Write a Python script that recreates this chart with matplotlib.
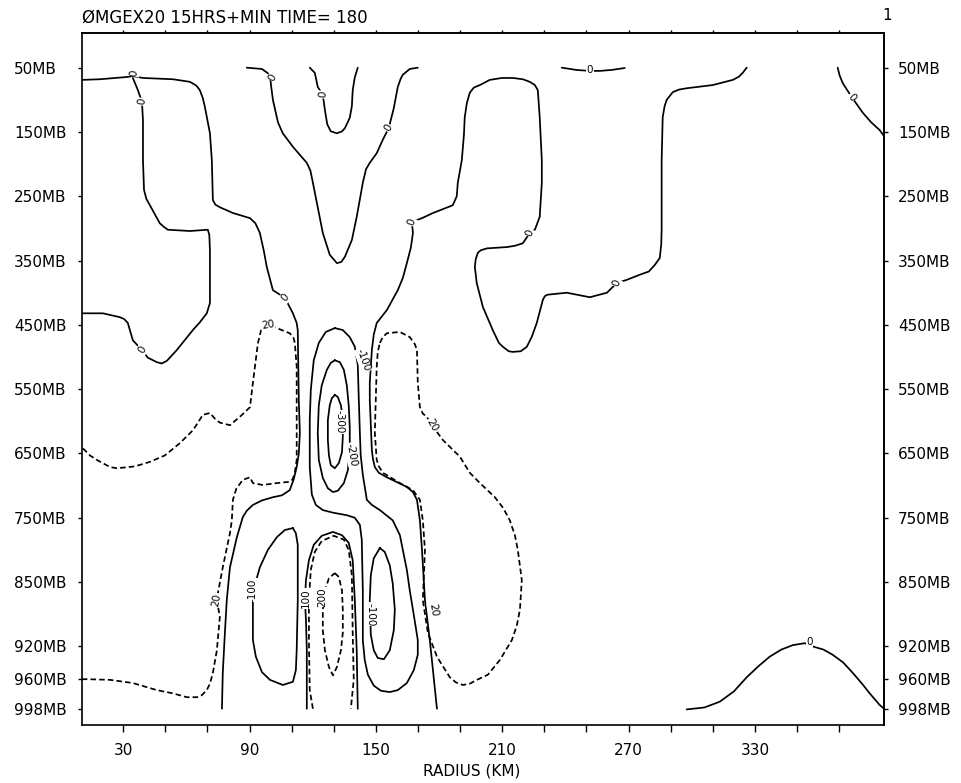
import matplotlib
matplotlib.use("Agg")
import matplotlib.pyplot as plt
import numpy as np

# vertical levels: pressure labels and their positions on the level axis
level_mb = ["50MB", "150MB", "250MB", "350MB", "450MB", "550MB", "650MB",
            "750MB", "850MB", "920MB", "960MB", "998MB"]
level_pos = [0, 1, 2, 3, 4, 5, 6, 7, 8, 9, 9.5, 9.98]

radius_ticks = np.arange(30, 371, 20)
radius_labels = [30, 90, 150, 210, 270, 330]

# omega isolines, (radius km, level position)
zero_upper_left = np.array([
    (10.4, 0.19), (18.9, 0.18), (31.8, 0.145), (34.6, 0.13), (39.4, 0.16), (53.6, 0.18),
    (61.7, 0.22), (64.8, 0.28), (66.4, 0.35), (67.8, 0.47), (68.8, 0.61), (71.2, 1.02),
    (72.1, 1.44), (72.6, 2.06), (73.8, 2.13), (75.9, 2.17), (82.1, 2.26), (90.2, 2.34),
    (92.8, 2.42), (94.9, 2.57), (96.8, 2.85), (98.2, 3.10), (101.1, 3.46), (106.8, 3.58),
    (110.6, 3.82), (112.4, 3.97), (112.9, 4.08), (113.4, 5.17), (113.9, 5.68), (113.4, 6.00),
    (112.4, 6.21), (111.0, 6.40), (109.1, 6.57), (105.4, 6.65), (101.1, 6.68), (95.9, 6.73),
    (91.6, 6.80), (88.7, 6.89), (86.8, 6.99), (84.0, 7.30), (80.7, 7.77), (79.2, 8.28),
    (78.3, 8.79), (77.3, 9.41), (76.9, 9.97)])

zero_left_pocket = np.array([
    (34.6, 0.16), (37.0, 0.35), (38.9, 0.53), (39.4, 0.81), (39.4, 1.44), (39.9, 1.90),
    (41.0, 2.04), (42.7, 2.14), (47.4, 2.42), (49.5, 2.48), (51.2, 2.52), (61.7, 2.54),
    (70.2, 2.52), (70.9, 2.60), (71.2, 2.84), (71.2, 3.66), (69.7, 3.82), (66.4, 3.96),
    (63.1, 4.08), (55.5, 4.39), (50.7, 4.56), (48.3, 4.60), (46.0, 4.58), (41.7, 4.51),
    (38.9, 4.39), (34.6, 4.24), (32.2, 3.97), (30.5, 3.91), (28.4, 3.88), (20.4, 3.82),
    (10.4, 3.82)])

zero_u_outer = np.array([
    (88.7, 0.0), (95.9, 0.02), (99.7, 0.11), (100.2, 0.27), (101.1, 0.50), (103.5, 0.85),
    (105.8, 1.02), (110.6, 1.23), (114.8, 1.39), (117.2, 1.48), (118.9, 1.60), (120.1, 1.79),
    (124.8, 2.57), (128.1, 2.91), (131.5, 3.04), (133.6, 3.02), (135.3, 2.94), (138.6, 2.68),
    (140.9, 2.32), (143.8, 1.79), (145.3, 1.58), (147.1, 1.48), (150.4, 1.33), (153.3, 1.12),
    (156.1, 0.94), (158.5, 0.63), (160.4, 0.30), (161.8, 0.17), (162.8, 0.11), (166.1, 0.02),
    (169.9, 0.0)])

zero_u_inner = np.array([
    (118.6, 0.0), (121.0, 0.08), (122.4, 0.30), (124.8, 0.42), (125.8, 0.66), (126.9, 0.88),
    (128.6, 0.99), (131.5, 1.02), (133.9, 0.99), (135.3, 0.94), (137.6, 0.78), (138.6, 0.60),
    (139.0, 0.35), (140.0, 0.15), (141.4, 0.0)])

zero_right_long = np.array([
    (179.0, 9.97), (177.1, 9.37), (175.6, 8.90), (173.3, 8.28), (171.9, 7.50), (170.9, 7.04),
    (169.5, 6.72), (167.6, 6.60), (164.7, 6.52), (155.2, 6.37), (151.4, 6.30), (149.5, 6.21),
    (148.6, 6.08), (148.1, 5.95), (147.1, 5.17), (147.1, 4.90), (148.1, 4.39), (149.0, 4.15),
    (150.4, 3.97), (155.2, 3.77), (160.4, 3.46), (162.8, 3.27), (164.7, 3.04), (166.6, 2.80),
    (167.6, 2.57), (167.1, 2.40), (171.9, 2.34), (177.1, 2.26), (186.5, 2.14), (188.4, 2.00),
    (188.9, 1.79), (190.8, 1.44), (191.8, 1.05), (192.2, 0.77), (193.2, 0.55), (194.6, 0.39),
    (196.5, 0.31), (199.4, 0.27), (204.1, 0.19), (209.8, 0.16), (215.0, 0.16), (219.8, 0.18),
    (223.1, 0.22), (225.5, 0.27), (226.9, 0.35), (227.8, 0.77), (228.8, 1.44), (228.8, 1.79),
    (227.8, 2.32), (225.5, 2.52), (223.1, 2.57), (219.8, 2.73), (216.0, 2.77), (212.2, 2.79),
    (202.7, 2.81), (199.8, 2.84), (198.4, 2.88), (197.4, 2.98), (197.0, 3.10), (197.9, 3.35),
    (200.8, 3.72), (205.5, 4.08), (208.4, 4.28), (210.3, 4.34), (213.1, 4.41), (215.0, 4.42),
    (218.8, 4.41), (221.7, 4.34), (224.1, 4.18), (226.4, 3.97), (229.3, 3.61), (230.3, 3.55),
    (231.6, 3.53), (240.7, 3.50), (251.6, 3.57), (259.7, 3.50), (264.4, 3.35), (269.1, 3.30),
    (275.3, 3.22), (279.6, 3.17), (282.4, 3.07), (284.8, 2.96), (285.5, 2.75), (285.7, 2.52),
    (285.7, 1.44), (286.2, 0.77), (287.1, 0.60), (288.1, 0.50), (291.0, 0.38), (294.0, 0.34),
    (297.6, 0.32), (310.0, 0.27), (319.5, 0.19), (322.4, 0.14), (324.2, 0.08), (326.1, 0.0)])

zero_top_arc = np.array([
    (238.3, 0.0), (245.4, 0.036), (251.6, 0.05), (256.4, 0.05), (262.0, 0.035), (268.2, 0.005)])

zero_top_right = np.array([
    (369.3, 0.0), (370.2, 0.12), (371.7, 0.24), (376.0, 0.46), (381.2, 0.70), (385.2, 0.85),
    (389.2, 0.97), (391.0, 1.05)])

zero_low_right = np.array([
    (297.6, 9.98), (306.0, 9.95), (313.3, 9.86), (320.0, 9.70), (326.1, 9.48), (331.6, 9.31),
    (337.0, 9.16), (342.5, 9.05), (348.0, 8.98), (353.7, 8.95), (358.4, 9.01), (362.6, 9.05),
    (366.9, 9.13), (371.9, 9.25), (376.4, 9.41), (380.6, 9.57), (384.5, 9.73), (389.2, 9.91),
    (391.0, 9.96)])

plus20_left = np.array([
    (10.9, 5.92), (14.2, 6.03), (17.5, 6.10), (23.7, 6.21), (27.0, 6.23), (35.6, 6.20),
    (42.7, 6.13), (49.8, 6.03), (56.9, 5.84), (63.1, 5.64), (65.9, 5.50), (67.8, 5.40),
    (71.2, 5.37), (73.6, 5.46), (75.9, 5.52), (80.7, 5.56), (86.4, 5.40), (90.2, 5.28),
    (91.6, 4.90), (94.0, 4.28), (95.9, 4.03), (98.7, 4.00), (103.0, 4.05), (109.1, 4.13),
    (110.9, 4.20), (111.5, 4.28), (112.4, 4.65), (112.4, 5.68), (112.4, 6.10), (111.5, 6.30),
    (110.5, 6.40), (109.1, 6.44), (103.0, 6.46), (96.3, 6.49), (91.6, 6.46), (90.2, 6.37),
    (86.8, 6.41), (83.7, 6.55), (82.1, 6.72), (81.6, 7.04), (80.7, 7.24), (77.3, 7.77),
    (75.0, 8.17), (74.5, 8.28), (75.9, 8.54), (74.5, 9.06), (72.6, 9.41), (71.2, 9.58),
    (69.7, 9.68), (67.3, 9.76), (65.0, 9.79), (60.2, 9.79), (53.6, 9.73), (46.0, 9.68),
    (34.6, 9.57), (23.7, 9.52), (12.8, 9.51), (10.4, 9.51)])

plus20_right = np.array([
    (151.9, 4.28), (153.3, 4.19), (155.2, 4.13), (161.4, 4.11), (166.1, 4.19), (168.5, 4.30),
    (169.5, 4.39), (169.9, 4.90), (170.9, 5.28), (172.3, 5.38), (174.2, 5.43), (176.6, 5.56),
    (181.8, 5.79), (189.9, 6.05), (194.6, 6.30), (199.4, 6.46), (206.5, 6.68), (210.5, 6.85),
    (213.6, 7.04), (216.0, 7.27), (217.4, 7.50), (219.3, 7.97), (218.4, 8.43), (216.9, 8.68),
    (214.6, 8.90), (208.9, 9.21), (203.2, 9.44), (198.0, 9.52), (194.6, 9.58), (191.3, 9.60),
    (188.0, 9.56), (185.1, 9.48), (179.0, 9.16), (174.7, 8.79), (172.3, 8.28), (173.3, 7.50),
    (172.3, 7.04), (170.9, 6.72), (167.6, 6.57), (161.4, 6.46), (153.3, 6.30), (151.4, 6.20),
    (150.4, 6.10), (149.5, 5.68), (150.4, 4.65), (150.9, 4.42), (151.9, 4.28)])

minus300 = np.array([
    (130.5, 5.09), (131.9, 5.12), (133.4, 5.25), (134.3, 5.48), (134.3, 5.74), (133.9, 5.98),
    (132.4, 6.15), (130.5, 6.23), (128.6, 6.18), (127.7, 6.03), (127.2, 5.79), (127.2, 5.48),
    (128.1, 5.25), (129.1, 5.14), (130.5, 5.09)])

minus200 = np.array([
    (130.5, 4.55), (132.9, 4.58), (134.8, 4.70), (136.2, 4.94), (137.1, 5.25), (137.6, 5.59),
    (137.6, 5.95), (136.7, 6.26), (134.8, 6.46), (131.9, 6.58), (129.6, 6.60), (127.2, 6.54),
    (124.8, 6.38), (122.9, 6.10), (122.4, 5.68), (122.9, 5.25), (124.3, 4.94), (126.7, 4.70),
    (128.6, 4.59), (130.5, 4.55)])

minus100_core = np.array([
    (130.5, 4.05), (134.3, 4.08), (137.6, 4.19), (140.0, 4.34), (141.4, 4.62), (141.9, 5.17),
    (142.4, 5.68), (142.8, 6.03), (143.8, 6.33), (145.7, 6.72), (148.1, 6.80), (151.9, 6.88),
    (158.0, 7.04), (161.4, 7.27), (162.8, 7.50), (164.7, 7.81), (166.1, 8.13), (168.0, 8.51),
    (169.9, 8.90), (169.9, 9.13), (168.0, 9.37), (164.7, 9.57), (160.4, 9.68), (156.6, 9.71),
    (152.4, 9.69), (149.0, 9.61), (146.2, 9.44), (144.7, 9.21), (143.8, 8.90), (143.8, 8.13),
    (143.3, 7.34), (142.4, 7.11), (140.0, 7.00), (136.2, 6.96), (129.6, 6.92), (124.8, 6.88),
    (121.5, 6.80), (119.6, 6.64), (118.6, 6.21), (118.6, 5.48), (119.1, 5.01), (120.5, 4.55),
    (122.9, 4.28), (126.2, 4.11), (130.5, 4.05)])

minus100_low_left = np.array([
    (110.6, 7.16), (106.8, 7.19), (103.0, 7.30), (98.7, 7.50), (94.9, 7.77), (92.5, 8.05),
    (91.6, 8.28), (91.6, 8.90), (93.0, 9.16), (95.9, 9.40), (99.7, 9.52), (105.8, 9.60),
    (110.6, 9.55), (112.0, 9.37), (112.4, 9.06), (112.9, 8.28), (112.9, 7.42), (112.0, 7.24),
    (110.6, 7.16)])

minus_low_right = np.array([
    (151.9, 7.47), (154.2, 7.53), (156.6, 7.74), (158.0, 8.02), (159.0, 8.43), (158.5, 8.75),
    (156.6, 9.06), (153.8, 9.20), (150.9, 9.18), (149.0, 9.06), (147.6, 8.82), (147.1, 8.28),
    (147.6, 7.89), (149.0, 7.63), (151.9, 7.47)])

arch_solid = np.array([
    (117.2, 9.97), (117.2, 9.06), (116.8, 8.59), (116.3, 8.28), (116.8, 7.97), (118.2, 7.66),
    (120.5, 7.42), (124.3, 7.28), (129.6, 7.22), (133.9, 7.27), (137.1, 7.39), (139.0, 7.66),
    (140.0, 8.28), (140.9, 9.06), (141.4, 9.97)])

arch_dashed = np.array([
    (120.1, 9.97), (118.6, 9.68), (118.2, 8.90), (118.2, 8.28), (119.1, 7.81), (121.0, 7.53),
    (124.3, 7.36), (130.0, 7.28), (134.8, 7.34), (137.1, 7.50), (138.6, 7.89), (139.0, 8.79),
    (139.5, 9.52), (138.1, 9.97)])

plus200 = np.array([
    (130.5, 7.86), (132.4, 7.92), (133.9, 8.13), (134.3, 8.43), (134.3, 8.79), (133.4, 9.06),
    (131.5, 9.32), (129.6, 9.45), (127.7, 9.32), (125.8, 9.06), (124.8, 8.75), (124.8, 8.43),
    (125.8, 8.13), (127.7, 7.94), (130.5, 7.86)])

solid_lines = [zero_upper_left, zero_left_pocket, zero_u_outer, zero_u_inner,
               zero_right_long, zero_top_arc, zero_top_right, zero_low_right,
               minus300, minus200, minus100_core, minus100_low_left,
               minus_low_right, arch_solid]
dashed_lines = [plus20_left, plus20_right, arch_dashed, plus200]

# line labels: (text, radius, level, rotation)
line_labels = [
    ("0", 35.3, 0.08, 80), ("0", 38.9, 0.53, 80), ("0", 101.1, 0.15, 60),
    ("0", 124.8, 0.42, 80), ("0", 156.1, 0.94, 60), ("0", 251.6, 0.03, 0),
    ("0", 376.0, 0.46, -50), ("0", 38.9, 4.39, 60), ("0", 106.8, 3.58, 50),
    ("0", 167.1, 2.40, 70), ("0", 223.1, 2.57, 70), ("0", 264.4, 3.35, 70),
    ("0", 356.0, 8.93, 0),
    ("20", 98.7, 4.00, 10), ("20", 176.6, 5.56, -60), ("20", 74.5, 8.28, 80),
    ("20", 177.1, 8.43, -80),
    ("-100", 143.8, 4.55, -70), ("-300", 132.9, 5.51, -90), ("-200", 138.6, 6.02, -80),
    ("-100", 91.6, 8.12, 90), ("200", 124.3, 8.23, 90), ("100", 116.8, 8.25, 90),
    ("-100", 147.4, 8.50, -90),
]

fig = plt.figure(figsize=(9.61, 7.83), dpi=100)
ax = fig.add_axes([0.0850, 0.0741, 0.8349, 0.8834])

for line in solid_lines:
    ax.plot(line[:, 0], line[:, 1], color="black", lw=1.25,
            solid_capstyle="round", solid_joinstyle="round")
for line in dashed_lines:
    ax.plot(line[:, 0], line[:, 1], color="black", lw=1.25, ls=(0, (3.2, 1.8)))

for text, r, lev, rot in line_labels:
    ax.text(r, lev, text, fontsize=7.5, rotation=rot, ha="center", va="center",
            rotation_mode="anchor",
            bbox=dict(boxstyle="square,pad=0.05", fc="white", ec="none"))

ax.set_xlim(10.3, 391.3)
ax.set_ylim(10.222, -0.535)

for side in ax.spines.values():
    side.set_linewidth(1.2)

ax.set_xticks(radius_ticks)
ax.set_xticklabels([str(t) if t in radius_labels else "" for t in radius_ticks])
ax.tick_params(axis="x", direction="out", length=5, width=1, pad=8, labelsize=11)
ax.set_xlabel("RADIUS (KM)", fontsize=11)
ax.xaxis.set_label_coords(0.4865, -0.056)

top = ax.secondary_xaxis("top")
top.set_xticks(radius_ticks)
top.set_xticklabels([])
top.tick_params(direction="out", length=2.5, width=1)
top.spines["top"].set_linewidth(1.2)

ax.set_yticks(level_pos)
ax.set_yticklabels(level_mb)
ax.tick_params(axis="y", direction="out", length=3, width=1, pad=45.7, labelsize=11)
for tick in ax.yaxis.get_major_ticks():
    tick.label1.set_horizontalalignment("left")

right = ax.secondary_yaxis("right")
right.set_yticks(level_pos)
right.set_yticklabels(level_mb)
right.tick_params(direction="out", length=3, width=1, pad=7, labelsize=11)
right.spines["right"].set_linewidth(1.2)

fig.text(0.0853, 0.9706, "ØMGEX20 15HRS+MIN TIME= 180", fontsize=12, va="baseline")
fig.text(0.923, 0.9745, "1", fontsize=11, va="baseline", ha="center")

fig.savefig("out.png", dpi=100)
